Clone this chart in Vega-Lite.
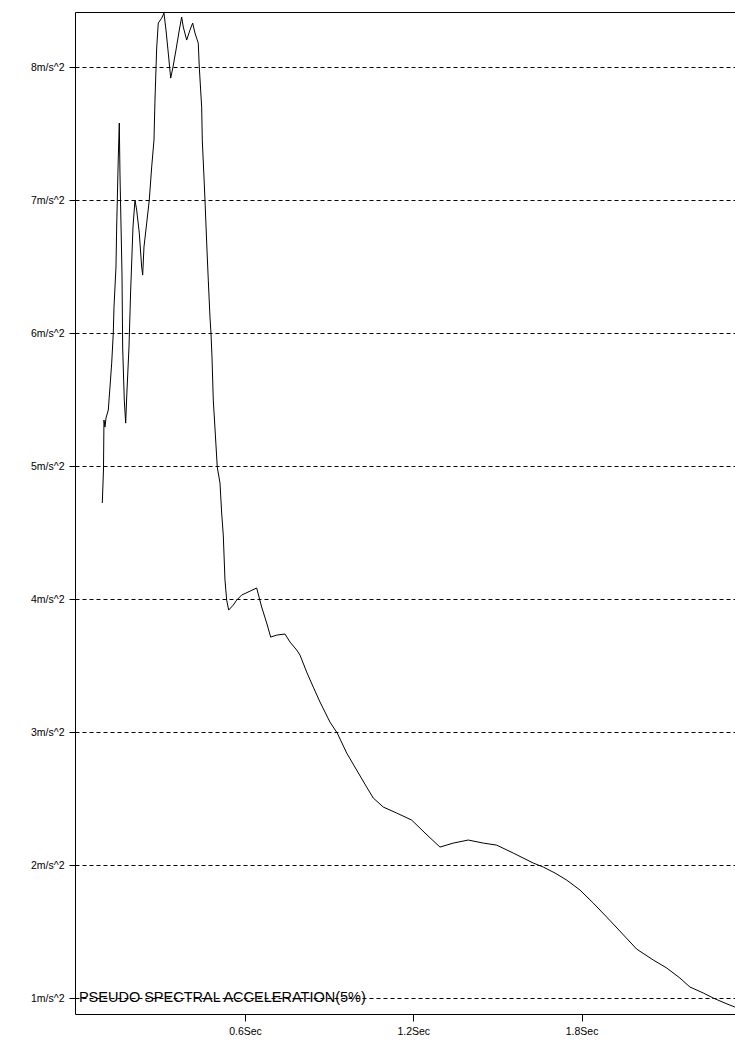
{
  "$schema": "https://vega.github.io/schema/vega-lite/v6.json",
  "width": 660,
  "height": 1002,
  "autosize": {"type": "none"},
  "padding": {"left": 75, "top": 12, "right": 0, "bottom": 29},
  "background": "white",
  "config": {
    "view": {"stroke": null},
    "font": "Liberation Sans",
    "axis": {
      "domainColor": "black",
      "tickColor": "black",
      "labelColor": "black",
      "labelFont": "Liberation Sans",
      "labelFontSize": 10.5,
      "domainWidth": 1,
      "tickWidth": 1
    }
  },
  "layer": [
    {
      "data": {
        "values": [
          {"t": 0.0913, "a": 4.722},
          {"t": 0.0955, "a": 4.970},
          {"t": 0.0973, "a": 5.346},
          {"t": 0.1009, "a": 5.293},
          {"t": 0.1045, "a": 5.361},
          {"t": 0.1127, "a": 5.421},
          {"t": 0.1187, "a": 5.594},
          {"t": 0.1248, "a": 5.774},
          {"t": 0.1305, "a": 6.000},
          {"t": 0.1330, "a": 6.195},
          {"t": 0.1401, "a": 6.496},
          {"t": 0.1426, "a": 6.797},
          {"t": 0.1483, "a": 7.316},
          {"t": 0.1519, "a": 7.579},
          {"t": 0.1544, "a": 7.188},
          {"t": 0.1615, "a": 6.451},
          {"t": 0.1640, "a": 5.887},
          {"t": 0.1697, "a": 5.496},
          {"t": 0.1747, "a": 5.323},
          {"t": 0.1783, "a": 5.519},
          {"t": 0.1865, "a": 5.895},
          {"t": 0.1925, "a": 6.323},
          {"t": 0.2007, "a": 6.797},
          {"t": 0.2078, "a": 7.000},
          {"t": 0.2139, "a": 6.925},
          {"t": 0.2232, "a": 6.752},
          {"t": 0.2317, "a": 6.496},
          {"t": 0.2353, "a": 6.436},
          {"t": 0.2399, "a": 6.647},
          {"t": 0.2496, "a": 6.827},
          {"t": 0.2588, "a": 7.000},
          {"t": 0.2674, "a": 7.248},
          {"t": 0.2756, "a": 7.451},
          {"t": 0.2791, "a": 7.752},
          {"t": 0.2852, "a": 8.143},
          {"t": 0.2909, "a": 8.331},
          {"t": 0.3030, "a": 8.368},
          {"t": 0.3112, "a": 8.406},
          {"t": 0.3184, "a": 8.278},
          {"t": 0.3266, "a": 8.105},
          {"t": 0.3351, "a": 7.917},
          {"t": 0.3433, "a": 8.000},
          {"t": 0.3540, "a": 8.128},
          {"t": 0.3658, "a": 8.278},
          {"t": 0.3743, "a": 8.376},
          {"t": 0.3800, "a": 8.301},
          {"t": 0.3922, "a": 8.203},
          {"t": 0.4039, "a": 8.278},
          {"t": 0.4135, "a": 8.331},
          {"t": 0.4217, "a": 8.256},
          {"t": 0.4335, "a": 8.180},
          {"t": 0.4371, "a": 8.000},
          {"t": 0.4456, "a": 7.699},
          {"t": 0.4478, "a": 7.451},
          {"t": 0.4538, "a": 7.173},
          {"t": 0.4574, "a": 7.000},
          {"t": 0.4635, "a": 6.677},
          {"t": 0.4692, "a": 6.398},
          {"t": 0.4752, "a": 6.120},
          {"t": 0.4788, "a": 6.000},
          {"t": 0.4824, "a": 5.820},
          {"t": 0.4870, "a": 5.496},
          {"t": 0.4930, "a": 5.286},
          {"t": 0.5012, "a": 4.992},
          {"t": 0.5109, "a": 4.872},
          {"t": 0.5169, "a": 4.647},
          {"t": 0.5226, "a": 4.481},
          {"t": 0.5287, "a": 4.143},
          {"t": 0.5348, "a": 3.992},
          {"t": 0.5419, "a": 3.917},
          {"t": 0.5583, "a": 3.955},
          {"t": 0.5704, "a": 3.992},
          {"t": 0.5882, "a": 4.030},
          {"t": 0.6417, "a": 4.083},
          {"t": 0.6595, "a": 3.940},
          {"t": 0.6774, "a": 3.820},
          {"t": 0.6916, "a": 3.714},
          {"t": 0.7130, "a": 3.729},
          {"t": 0.7426, "a": 3.737},
          {"t": 0.7604, "a": 3.677},
          {"t": 0.7843, "a": 3.617},
          {"t": 0.7961, "a": 3.579},
          {"t": 0.8200, "a": 3.451},
          {"t": 0.8435, "a": 3.338},
          {"t": 0.8674, "a": 3.226},
          {"t": 0.9030, "a": 3.075},
          {"t": 0.9291, "a": 2.992},
          {"t": 0.9626, "a": 2.842},
          {"t": 0.9982, "a": 2.714},
          {"t": 1.0339, "a": 2.586},
          {"t": 1.0574, "a": 2.504},
          {"t": 1.0930, "a": 2.436},
          {"t": 1.1408, "a": 2.391},
          {"t": 1.1943, "a": 2.338},
          {"t": 1.2417, "a": 2.241},
          {"t": 1.2952, "a": 2.135},
          {"t": 1.3426, "a": 2.165},
          {"t": 1.3961, "a": 2.188},
          {"t": 1.4496, "a": 2.165},
          {"t": 1.4973, "a": 2.150},
          {"t": 1.5565, "a": 2.090},
          {"t": 1.6278, "a": 2.015},
          {"t": 1.6635, "a": 1.985},
          {"t": 1.7052, "a": 1.940},
          {"t": 1.7469, "a": 1.887},
          {"t": 1.7943, "a": 1.812},
          {"t": 1.8417, "a": 1.714},
          {"t": 1.8895, "a": 1.609},
          {"t": 1.9430, "a": 1.489},
          {"t": 1.9964, "a": 1.368},
          {"t": 2.0556, "a": 1.286},
          {"t": 2.1034, "a": 1.226},
          {"t": 2.1508, "a": 1.150},
          {"t": 2.1864, "a": 1.083},
          {"t": 2.2339, "a": 1.038},
          {"t": 2.2695, "a": 1.000},
          {"t": 2.3112, "a": 0.962},
          {"t": 2.3468, "a": 0.932},
          {"t": 2.3800, "a": 0.905}
        ]
      },
      "mark": {"type": "line", "color": "black", "strokeWidth": 1, "clip": true},
      "encoding": {
        "x": {
          "field": "t",
          "type": "quantitative",
          "scale": {"domain": [-0.006, 2.347], "nice": false, "zero": false},
          "axis": {
            "orient": "bottom",
            "title": null,
            "values": [0.6, 1.2, 1.8],
            "labelExpr": "format(datum.value, '.1f') + 'Sec'",
            "tickSize": 7,
            "labelPadding": 5,
            "grid": false,
            "domain": true
          }
        },
        "y": {
          "field": "a",
          "type": "quantitative",
          "scale": {"domain": [0.88, 8.414], "nice": false, "zero": false},
          "axis": {
            "title": null,
            "values": [1, 2, 3, 4, 5, 6, 7, 8],
            "labelExpr": "datum.value + 'm/s^2'",
            "tickSize": 6,
            "labelPadding": 5,
            "grid": true,
            "gridColor": "black",
            "gridDash": [4, 3],
            "gridWidth": 1,
            "gridOpacity": 1,
            "domain": true
          }
        }
      }
    },
    {
      "data": {"values": [{"label": "PSEUDO SPECTRAL ACCELERATION(5%)"}]},
      "mark": {"type": "text", "align": "left", "baseline": "middle", "fontSize": 14.5, "font": "Liberation Sans", "color": "black"},
      "encoding": {
        "text": {"field": "label"},
        "x": {
          "datum": 0.008,
          "type": "quantitative",
          "scale": {"domain": [-0.006, 2.347], "nice": false, "zero": false},
          "axis": {"orient": "top", "title": null, "labels": false, "ticks": false, "grid": false, "domain": true}
        },
        "y": {
          "datum": 1,
          "type": "quantitative",
          "scale": {"domain": [0.88, 8.414], "nice": false, "zero": false}
        }
      }
    }
  ],
  "resolve": {"axis": {"x": "independent"}}
}
